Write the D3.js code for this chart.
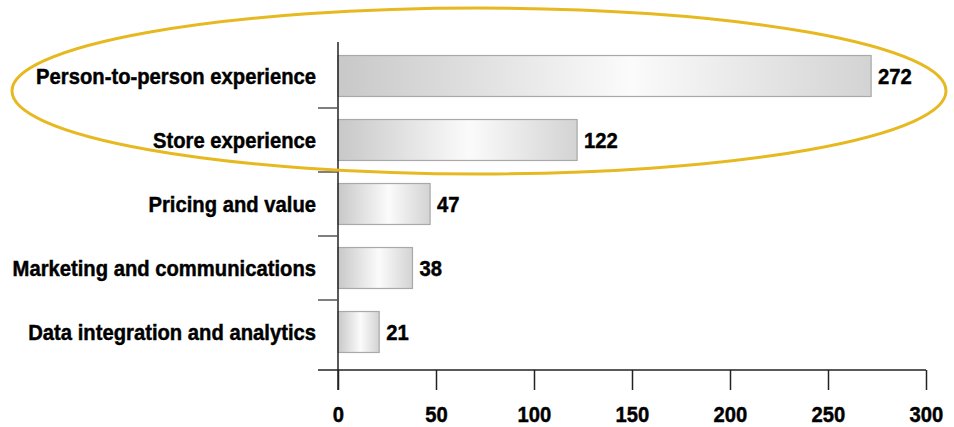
<!DOCTYPE html>
<html><head><meta charset="utf-8">
<script src="https://cdn.jsdelivr.net/npm/d3@7"></script>
<style>
html,body{margin:0;padding:0;background:#fff;}
text{font-family:"Liberation Sans",Arial,sans-serif;font-weight:bold;fill:#000;stroke:#000;stroke-width:0.45px;}
</style></head>
<body>
<svg id="chart" width="954" height="427"></svg>
<script>
const categories = ["Person-to-person experience","Store experience","Pricing and value","Marketing and communications","Data integration and analytics"];
const values = [272,122,47,38,21];
const xTicks = [0,50,100,150,200,250,300];

const SX = 0.92; // condensed look
const FS = 22;

const svg = d3.select("#chart");
const x = d3.scaleLinear().domain([0,300]).range([338,926]);
const y = d3.scaleBand().domain(categories).range([44,364]).paddingInner(0.36).paddingOuter(0.18);

const defs = svg.append("defs");
const g = defs.append("linearGradient").attr("id","barGrad").attr("x1","0%").attr("x2","100%").attr("y1","0%").attr("y2","0%");
g.append("stop").attr("offset","0%").attr("stop-color","#c8c8c8");
g.append("stop").attr("offset","55%").attr("stop-color","#fbfbfb");
g.append("stop").attr("offset","100%").attr("stop-color","#d3d3d3");

// bars
svg.selectAll("rect.bar").data(values).join("rect")
  .attr("class","bar")
  .attr("x", x(0))
  .attr("y",(d,i)=>y(categories[i]))
  .attr("width",d=>x(d)-x(0))
  .attr("height",y.bandwidth())
  .attr("fill","url(#barGrad)")
  .attr("stroke","#a8a8a8").attr("stroke-width",1.2);

// value labels
svg.selectAll("text.val").data(values).join("text")
  .attr("class","val")
  .attr("transform",(d,i)=>`translate(${x(d)+7},${y(categories[i])+y.bandwidth()/2}) scale(${SX},1)`)
  .attr("dy","0.36em")
  .attr("font-size",FS)
  .text(d=>d);

// category labels
svg.selectAll("text.cat").data(categories).join("text")
  .attr("class","cat")
  .attr("transform",d=>`translate(316,${y(d)+y.bandwidth()/2}) scale(${SX},1)`)
  .attr("dy","0.36em")
  .attr("text-anchor","end")
  .attr("font-size",FS)
  .text(d=>d);

// y axis line
svg.append("line").attr("x1",x(0)).attr("x2",x(0)).attr("y1",42).attr("y2",390)
  .attr("stroke","#222").attr("stroke-width",1.5);
// y ticks between categories
const sepY = categories.slice(1).map(c=>y(c) - (y.step()-y.bandwidth())/2);
svg.selectAll("line.ytick").data(sepY).join("line")
  .attr("x1",318).attr("x2",x(0)).attr("y1",d=>d).attr("y2",d=>d)
  .attr("stroke","#555").attr("stroke-width",1.5);

// x axis
svg.append("line").attr("x1",318).attr("x2",x(300)).attr("y1",370).attr("y2",370)
  .attr("stroke","#222").attr("stroke-width",1.5);
const xa = d3.axisBottom(x).tickValues(xTicks).tickSize(20).tickPadding(14);
const ax = svg.append("g").attr("transform","translate(0,370)").call(xa);
ax.select(".domain").remove();
ax.selectAll(".tick line").attr("stroke","#222").attr("stroke-width",1.5);
ax.selectAll(".tick text")
  .attr("font-size",FS).attr("font-family",null).attr("fill","#000")
  .attr("y",null).attr("dy",null)
  .attr("transform",`translate(0,52) scale(${SX},1)`);

// highlight ellipse
svg.append("ellipse").attr("cx",479).attr("cy",91).attr("rx",467).attr("ry",83)
  .attr("fill","none").attr("stroke","#e6b920").attr("stroke-width",3);
</script>
</body></html>
